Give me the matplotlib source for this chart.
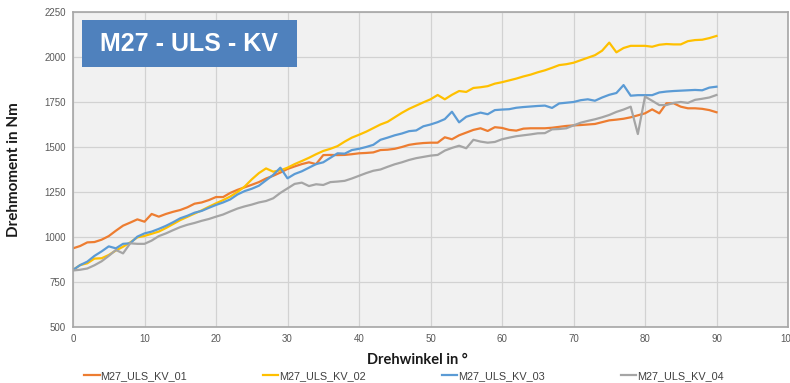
import matplotlib.pyplot as plt
from matplotlib.patches import Rectangle

# Drehwinkel in Grad (1°-Schritte)
angle = list(range(0, 91))

kv_01 = [937, 950, 970, 972, 985, 1005, 1035, 1063, 1080, 1098,
         1085, 1128, 1113, 1128, 1140, 1150, 1165, 1185, 1192, 1205,
         1222, 1222, 1245, 1262, 1276, 1290, 1305, 1325, 1340, 1358,
         1378, 1392, 1405, 1415, 1405, 1455, 1456, 1455, 1456, 1460,
         1465, 1467, 1470, 1483, 1485, 1490, 1500, 1512, 1518, 1522,
         1524, 1524, 1554, 1543, 1565, 1580, 1595, 1604, 1589, 1610,
         1606, 1595, 1591, 1602, 1604, 1604, 1604, 1607, 1612, 1617,
         1620, 1622, 1625, 1628, 1638, 1648, 1652, 1657, 1665, 1676,
         1687, 1709, 1687, 1743, 1743, 1724, 1715, 1715, 1712, 1705,
         1693]

kv_02 = [817, 844, 854, 880, 882, 900, 925, 946, 970, 998,
         1006, 1018, 1030, 1050, 1072, 1094, 1112, 1130, 1148, 1168,
         1187, 1205, 1225, 1250, 1280, 1320, 1355, 1381, 1363, 1370,
         1385, 1405, 1422, 1440, 1460, 1478, 1490, 1505, 1530, 1552,
         1568, 1585, 1605, 1625, 1640, 1665, 1690, 1712, 1730, 1748,
         1765, 1789, 1765, 1790, 1811, 1806, 1828, 1832, 1838, 1852,
         1860, 1870, 1880, 1892, 1902, 1915, 1926, 1940, 1955, 1960,
         1968, 1982, 1996, 2010, 2035, 2080, 2026, 2050, 2062, 2062,
         2062, 2057, 2068, 2072, 2070, 2070, 2088, 2094, 2096, 2105,
         2117]

kv_03 = [817, 844, 863, 895, 920, 948, 937, 962, 965, 1002,
         1020, 1030, 1045, 1062, 1082, 1104, 1118, 1135, 1145, 1162,
         1178, 1192, 1209, 1236, 1255, 1268, 1285, 1315, 1345, 1385,
         1326, 1350, 1365, 1385, 1405, 1415, 1440, 1465, 1463, 1483,
         1490, 1500, 1512, 1540, 1552, 1565, 1575, 1588, 1592, 1615,
         1625, 1638, 1655, 1696, 1637, 1668, 1680, 1691, 1682, 1705,
         1708, 1710, 1718, 1722, 1725, 1728, 1730, 1717, 1742, 1746,
         1750, 1760, 1765, 1757, 1775, 1790, 1800, 1844, 1785, 1788,
         1788, 1788, 1803, 1808, 1811, 1813, 1815, 1817, 1815, 1830,
         1835]

kv_04 = [814, 818, 825, 843, 865, 895, 928, 909, 965, 962,
         962, 980, 1005, 1020, 1038, 1055, 1068, 1078, 1090, 1100,
         1113, 1125, 1142, 1158, 1170, 1180, 1192, 1200, 1215, 1245,
         1270, 1295, 1302, 1283, 1293, 1289, 1305, 1308, 1312, 1325,
         1340, 1355, 1368, 1375, 1390, 1404, 1415, 1428, 1438, 1445,
         1452, 1456, 1480, 1495, 1507, 1493, 1540, 1530, 1524, 1528,
         1543, 1552, 1560, 1565, 1570, 1576, 1577, 1598, 1600, 1604,
         1620, 1635, 1645, 1654, 1665, 1678, 1695, 1708, 1724, 1572,
         1780, 1757, 1733, 1733, 1745, 1750, 1745, 1762, 1768, 1775,
         1789]

series_names = ["M27_ULS_KV_01", "M27_ULS_KV_02", "M27_ULS_KV_03", "M27_ULS_KV_04"]
series_colors = ["#ED7D31", "#FFC000", "#5B9BD5", "#A5A5A5"]

x_ticks = list(range(0, 101, 10))
y_ticks = list(range(500, 2251, 250))

W, H = 790, 383
fig = plt.figure(figsize=(W / 100, H / 100), dpi=100)
fig.patch.set_facecolor("white")
ax = fig.add_axes([73 / W, 1 - 327 / H, (788 - 73) / W, (327 - 12) / H])
ax.set_facecolor("#F1F1F1")

for vals, name, col in zip([kv_01, kv_02, kv_03, kv_04], series_names, series_colors):
    ax.plot(angle, vals, color=col, lw=1.6, label=name, solid_joinstyle="round")

ax.set_xlim(0, 100)
ax.set_ylim(500, 2250)
ax.set_xticks(x_ticks)
ax.set_yticks(y_ticks)
ax.grid(True, color="#D2D2D2", lw=0.9)
ax.set_axisbelow(True)
ax.tick_params(length=0, labelsize=7, colors="#595959", pad=5)
for lbl in ax.get_xticklabels() + ax.get_yticklabels():
    lbl.set_fontfamily("Liberation Sans")
for side in ["left", "bottom", "top", "right"]:
    ax.spines[side].set_color("#A6A6A6")
    ax.spines[side].set_linewidth(1.2)

ax.set_xlabel("Drehwinkel in °", fontsize=10.5, fontweight="bold", family="Lato",
              color="#1a1a1a")
ax.xaxis.set_label_coords((417 - 73) / (788 - 73), -(353 - 327) / (327 - 12))
ax.set_ylabel("Drehmoment in Nm", fontsize=11, fontweight="bold", family="Lato",
              color="#1a1a1a")
ax.yaxis.set_label_coords(-(73 - 21) / (788 - 73), 0.5)

# Titelbox
fig.patches.append(Rectangle((82 / W, 1 - 67 / H), (297 - 82) / W, (67 - 20) / H,
                             transform=fig.transFigure, fc="#4F81BD", ec="none",
                             zorder=5))
fig.text(189 / W, 1 - 44 / H, "M27 - ULS - KV", ha="center", va="center",
         fontsize=18, fontweight="bold", family="Liberation Sans", color="white",
         zorder=6)

leg = fig.legend(loc="center", bbox_to_anchor=(404 / W, 1 - 376 / H), ncol=4,
                 frameon=False, prop={"family": "Liberation Sans", "size": 7.8},
                 handlelength=1.4, handletextpad=0.1, columnspacing=7.0)
for t in leg.get_texts():
    t.set_color("#404040")

fig.savefig("out.png", dpi=100)
